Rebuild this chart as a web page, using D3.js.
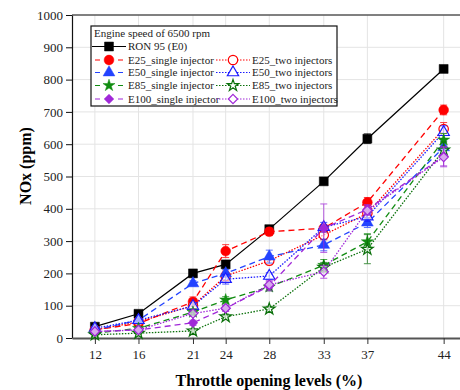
<!DOCTYPE html>
<html>
<head>
<meta charset="utf-8">
<script src="https://cdn.jsdelivr.net/npm/d3@7"></script>
<style>
  body { margin: 0; background: #fff; }
  svg, svg text { font-family: "Liberation Serif", "Times New Roman", serif; }
</style>
</head>
<body>
<div id="wrapper"></div>
<script>
// throttle opening levels (%)
const throttle = [12, 16, 21, 24, 28, 33, 37, 44]
const yTicks = [0, 100, 200, 300, 400, 500, 600, 700, 800, 900, 1000]

// NOx (ppm) per fuel / injection mode, with error bar half-widths
const ron95 = [35, 75, 200, 228, 337, 485, 617, 833]
const ron95Err = [6, 5, 6, 6, 8, 6, 15, 10]
const e25Single = [25, 45, 112, 269, 329, 340, 420, 706]
const e25SingleErr = [5, 6, 15, 20, 12, 10, 15, 15]
const e25Two = [25, 50, 100, 192, 239, 319, 386, 647]
const e25TwoErr = [5, 6, 10, 15, 12, 15, 15, 20]
const e50Single = [25, 55, 169, 200, 252, 288, 357, 590]
const e50SingleErr = [5, 6, 8, 12, 20, 18, 15, 20]
const e50Two = [30, 55, 99, 182, 192, 343, 376, 637]
const e50TwoErr = [5, 6, 10, 15, 10, 15, 15, 20]
const e85Single = [15, 30, 80, 118, 158, 225, 298, 613]
const e85SingleErr = [5, 6, 10, 10, 12, 18, 25, 20]
const e85Two = [10, 15, 22, 66, 90, 219, 275, 582]
const e85TwoErr = [5, 5, 6, 8, 8, 15, 45, 25]
const e100Single = [20, 25, 47, 92, 161, 340, 398, 563]
const e100SingleErr = [5, 5, 8, 10, 15, 75, 15, 30]
const e100Two = [20, 25, 76, 92, 165, 205, 395, 560]
const e100TwoErr = [5, 5, 8, 8, 12, 20, 15, 30]

const serif = "'Liberation Serif', 'Times New Roman', serif"
const diamond = d3.symbolDiamond2 || d3.symbolDiamond

const series = [
  {name: "RON 95 (E0)", values: ron95, err: ron95Err, color: "#000000", symbol: d3.symbolSquare, fill: true, dash: null, size: 80},
  {name: "E25_single injector", values: e25Single, err: e25SingleErr, color: "#ff0000", symbol: d3.symbolCircle, fill: true, dash: "6,4", size: 75},
  {name: "E25_two injectors", values: e25Two, err: e25TwoErr, color: "#ff0000", symbol: d3.symbolCircle, fill: false, dash: "1.5,1.5", size: 70},
  {name: "E50_single injector", values: e50Single, err: e50SingleErr, color: "#2343ff", symbol: d3.symbolTriangle, fill: true, dash: "6,4", size: 60},
  {name: "E50_two injectors", values: e50Two, err: e50TwoErr, color: "#1a1aff", symbol: d3.symbolTriangle, fill: false, dash: "1.5,1.5", size: 55},
  {name: "E85_single injector", values: e85Single, err: e85SingleErr, color: "#118c11", symbol: d3.symbolStar, fill: true, dash: "6,4", size: 45},
  {name: "E85_two injectors", values: e85Two, err: e85TwoErr, color: "#0a700a", symbol: d3.symbolStar, fill: false, dash: "1.5,1.5", size: 42},
  {name: "E100_single injector", values: e100Single, err: e100SingleErr, color: "#a028d8", symbol: diamond, fill: true, dash: "6,4", size: 60},
  {name: "E100_two injectors", values: e100Two, err: e100TwoErr, color: "#a028d8", symbol: diamond, fill: false, dash: "1.5,1.5", size: 55},
]

const dimensions = {
  width: 460,
  height: 390,
  margin: {top: 15, right: 0, bottom: 52, left: 72},
}
dimensions.boundedWidth = dimensions.width - dimensions.margin.left - dimensions.margin.right
dimensions.boundedHeight = dimensions.height - dimensions.margin.top - dimensions.margin.bottom

const wrapper = d3.select("#wrapper")
  .append("svg")
    .attr("width", dimensions.width)
    .attr("height", dimensions.height)
    .attr("font-family", serif)

const bounds = wrapper.append("g")
  .attr("transform", `translate(${dimensions.margin.left},${dimensions.margin.top})`)

const xScale = d3.scaleLinear()
  .domain([9.9, 45.5])
  .range([0, dimensions.boundedWidth])

const yScale = d3.scaleLinear()
  .domain([0, 1000])
  .range([dimensions.boundedHeight, 0])

// grid
bounds.append("g")
  .selectAll("line")
  .data(yTicks.slice(1))
  .join("line")
    .attr("x1", 0)
    .attr("x2", dimensions.boundedWidth)
    .attr("y1", d => yScale(d))
    .attr("y2", d => yScale(d))
    .attr("stroke", "#e4e4e4")
bounds.append("g")
  .selectAll("line")
  .data(throttle)
  .join("line")
    .attr("x1", d => xScale(d))
    .attr("x2", d => xScale(d))
    .attr("y1", 0)
    .attr("y2", dimensions.boundedHeight)
    .attr("stroke", "#e4e4e4")

// top frame line
bounds.append("line")
  .attr("x1", 0).attr("x2", dimensions.boundedWidth)
  .attr("y1", 0).attr("y2", 0)
  .attr("stroke", "#111").attr("stroke-width", 1.2)

// axes
const yAxis = bounds.append("g")
  .call(d3.axisLeft(yScale).tickValues(yTicks).tickFormat(d3.format("d"))
    .tickSize(6).tickSizeOuter(0).tickPadding(3))
  .attr("font-family", serif)
  .attr("font-size", 13)
yAxis.select(".domain").attr("stroke", "#111").attr("stroke-width", 1.2)
yAxis.selectAll(".tick line").attr("stroke", "#111")
yAxis.selectAll("text").attr("fill", "#222")

const xAxis = bounds.append("g")
  .attr("transform", `translate(0,${dimensions.boundedHeight})`)
  .call(d3.axisBottom(xScale).tickValues(throttle).tickSize(6).tickSizeOuter(0).tickPadding(6))
  .attr("font-family", serif)
  .attr("font-size", 13)
xAxis.select(".domain").attr("stroke", "#555").attr("stroke-width", 2.2)
xAxis.selectAll(".tick line").attr("stroke", "#333")
xAxis.selectAll("text").attr("fill", "#222")

// axis titles
wrapper.append("text")
  .attr("x", 269)
  .attr("y", 386)
  .attr("text-anchor", "middle")
  .attr("font-weight", "bold")
  .attr("font-size", 16)
  .text("Throttle opening levels (%)")

wrapper.append("text")
  .attr("transform", "translate(31,166) rotate(-90)")
  .attr("text-anchor", "middle")
  .attr("font-weight", "bold")
  .attr("font-size", 16)
  .text("NOx (ppm)")

// series
const line = d3.line()
  .x((d, i) => xScale(throttle[i]))
  .y(d => yScale(d))

const seriesGroups = bounds.selectAll(".series")
  .data(series)
  .join("g")
    .attr("class", "series")

seriesGroups.append("path")
  .attr("d", d => line(d.values))
  .attr("fill", "none")
  .attr("stroke", d => d.color)
  .attr("stroke-width", d => d.dash ? 1.3 : 1.2)
  .attr("stroke-dasharray", d => d.dash)

seriesGroups.each(function(s) {
  const g = d3.select(this)
  const pts = s.values.map((v, i) => ({x: throttle[i], y: v, e: s.err[i]}))
  const eb = g.selectAll(".err")
    .data(pts)
    .join("g")
      .attr("class", "err")
      .attr("stroke", s.color)
      .attr("stroke-width", 1)
      .attr("opacity", 0.75)
  eb.append("line")
    .attr("x1", d => xScale(d.x)).attr("x2", d => xScale(d.x))
    .attr("y1", d => yScale(d.y - d.e)).attr("y2", d => yScale(d.y + d.e))
  eb.append("line")
    .attr("x1", d => xScale(d.x) - 3.5).attr("x2", d => xScale(d.x) + 3.5)
    .attr("y1", d => yScale(d.y - d.e)).attr("y2", d => yScale(d.y - d.e))
  eb.append("line")
    .attr("x1", d => xScale(d.x) - 3.5).attr("x2", d => xScale(d.x) + 3.5)
    .attr("y1", d => yScale(d.y + d.e)).attr("y2", d => yScale(d.y + d.e))

  g.selectAll(".marker")
    .data(pts)
    .join("path")
      .attr("class", "marker")
      .attr("transform", d => `translate(${xScale(d.x)},${yScale(d.y)})`)
      .attr("d", d3.symbol(s.symbol, s.size))
      .attr("fill", s.fill ? s.color : "#fff")
      .attr("fill-opacity", s.fill ? 1 : 0.6)
      .attr("stroke", s.color)
      .attr("stroke-width", s.fill ? 0.5 : 1.2)
})

// legend
const legend = wrapper.append("g")
  .attr("transform", "translate(91,26)")
  .attr("font-family", serif)
  .attr("font-size", 11)
legend.append("rect")
  .attr("width", 246)
  .attr("height", 80)
  .attr("fill", "#fff")
  .attr("stroke", "#111")
  .attr("stroke-width", 1.2)
legend.append("text")
  .attr("x", 3)
  .attr("y", 11)
  .attr("fill", "#222")
  .text("Engine speed of 6500 rpm")

const legendItems = series.map((s, i) => {
  if (i === 0) return {s, col: 0, row: 0}
  return {s, col: (i - 1) % 2, row: 1 + Math.floor((i - 1) / 2)}
})
const rowY = [20.5, 34, 46.5, 59.5, 73]
const colX = [1, 125]

const items = legend.selectAll(".item")
  .data(legendItems)
  .join("g")
    .attr("class", "item")
    .attr("transform", d => `translate(${colX[d.col]},${rowY[d.row]})`)
items.append("line")
  .attr("x1", 0).attr("x2", 34)
  .attr("stroke", d => d.s.color)
  .attr("stroke-width", 1.2)
  .attr("stroke-dasharray", d => d.s.dash ? (d.s.dash === "6,4" ? "0,3,5,18,5,3" : "1.5,1.5") : null)
items.append("path")
  .attr("transform", "translate(17,0)")
  .attr("d", d => d3.symbol(d.s.symbol, d.s.size)())
  .attr("fill", d => d.s.fill ? d.s.color : "#fff")
  .attr("stroke", d => d.s.color)
  .attr("stroke-width", d => d.s.fill ? 0.5 : 1.2)
items.append("text")
  .attr("x", 36)
  .attr("dy", "0.35em")
  .attr("fill", "#222")
  .text(d => d.s.name)
</script>
</body>
</html>
